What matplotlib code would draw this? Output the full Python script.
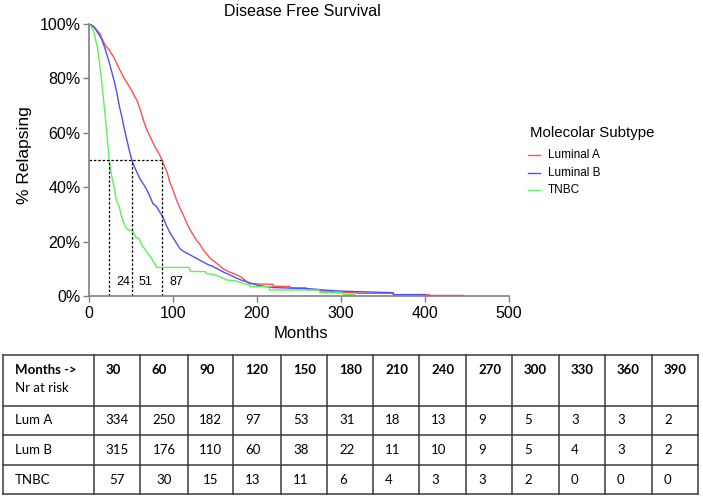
"""
Disease free survival by molecular subtype + numbers-at-risk table
"""
import matplotlib
matplotlib.use("Agg")
import matplotlib.pyplot as plt
from matplotlib.lines import Line2D

plt.rcParams["font.family"] = ["Liberation Sans", "DejaVu Sans"]

# ── data (flat stretches keep both ends) ──────────────────────────────────────
lum_a_t = [0, 3, 6, 10, 13, 17, 20, 25, 30, 33, 37, 41, 45, 50, 54, 57, 60, 63, 66, 69,
           72, 76, 80, 84, 87, 90, 93, 96, 100, 104, 108, 112, 116, 120, 124, 128, 132,
           136, 140, 144, 148, 152, 156, 160, 166, 172, 178, 183, 187, 192,
           219, 219, 239, 239, 259, 259, 275, 275, 290, 290, 320, 320, 362, 362,
           405, 405, 446]
lum_a_s = [100, 99.5, 99, 97.5, 96.5, 93.5, 92, 90, 87.5, 85.5, 83, 80.5, 78.5, 76, 73.5,
           72, 69.5, 66.5, 63.5, 61, 59, 56.5, 54, 52, 50, 47.5, 45.5, 42, 39, 35.5, 32.5,
           30, 27, 24.5, 22.5, 20.5, 19, 17, 15.5, 14, 13, 12, 11, 10, 9, 8.3, 7.5, 6.5,
           5.5, 4.5,
           4.3, 3.6, 3.5, 3.0, 3.0, 2.4, 2.3, 1.8, 1.8, 1.3, 1.2, 1.0, 1.0, 0.5,
           0.5, 0.2, 0.2]

lum_b_t = [0, 4, 8, 12, 15, 18, 21, 24, 27, 30, 33, 36, 39, 42, 45, 48, 51, 54, 57, 60,
           64, 68, 72, 76, 80, 84, 88, 92, 96, 100, 104, 108, 112, 118, 124, 130, 136,
           142, 148, 154, 160, 166, 172, 180, 188, 195, 200, 210, 219, 240, 265, 280, 300,
           330, 362, 363, 400, 402]
lum_b_s = [100, 99.5, 98, 96, 94.5, 92, 89, 86, 82.5, 79, 75, 70, 66, 61.5, 57.5, 53.5,
           50, 47.5, 45.5, 43.5, 41.5, 39.5, 37, 34, 33, 31, 29, 26, 23.5, 21.5, 19.5,
           17.5, 16.5, 15.5, 14.5, 13.5, 12.5, 11.5, 10.8, 9.8, 8.8, 8, 7.1, 6, 5.2, 4.5,
           4, 3.5, 3.1, 2.9, 2.6, 2.2, 1.8, 1.5, 1.2, 0.5, 0.5, 0]

tnbc_t = [0, 3, 6, 8, 10, 12, 14, 16, 18, 20, 22, 24, 26, 28, 30, 32, 34, 36, 38, 40, 42,
          44, 47, 52, 56, 60, 63, 66, 70, 73, 76, 79, 81, 119, 121, 138, 140, 150, 160,
          164, 175, 185, 191, 192, 214, 215, 274, 275, 302, 303, 317]
tnbc_s = [100, 99, 97, 94, 91.5, 87, 82, 76, 70, 64, 57, 50, 46, 42.5, 40, 36, 34, 33,
          30, 28, 26.5, 25, 24.3, 24, 21.5, 21, 18.5, 17.5, 15.5, 14.5, 13, 11.5, 10.5,
          10.5, 9, 9, 8.3, 7.8, 6.5, 5.9, 5.5, 4.5, 4.2, 3.4, 3.4, 2.2, 2.2, 1.2, 1.2,
          0.5, 0.5]

medians = [24, 51, 87]

risk_months = [30, 60, 90, 120, 150, 180, 210, 240, 270, 300, 330, 360, 390]
risk_lum_a = [334, 250, 182, 97, 53, 31, 18, 13, 9, 5, 3, 3, 2]
risk_lum_b = [315, 176, 110, 60, 38, 22, 11, 10, 9, 5, 4, 3, 2]
risk_tnbc = [57, 30, 15, 13, 11, 6, 4, 3, 3, 2, 0, 0, 0]

W, H = 703, 501
fig = plt.figure(figsize=(W / 100, H / 100), dpi=100)

# ── survival plot ──────────────────────────────────────────────────────────────
ax = fig.add_axes([89 / W, 1 - 296 / H, 420 / W, 272 / H])
curves = [
    (lum_a_t, lum_a_s, "#ff5050", "Luminal A"),
    (lum_b_t, lum_b_s, "#5050f0", "Luminal B"),
    (tnbc_t, tnbc_s, "#5ef05e", "TNBC"),
]
for t, s, c, lab in curves:
    ax.plot(t, s, color=c, lw=1.0, label=lab)

# median lines
ax.plot([0, max(medians)], [50, 50], color="black", ls=(0, (2, 1.5)), lw=0.9)
for m in medians:
    ax.plot([m, m], [0, 50], color="black", ls=(0, (2, 1.5)), lw=0.9)
for m, xo in zip(medians, [17, 16.5, 17]):
    ax.text(m + xo, 5, str(m), fontsize=9, ha="center", va="center")

ax.set_xlim(0, 500)
ax.set_ylim(0, 100)
ax.set_xticks(range(0, 501, 100))
ax.set_yticks(range(0, 101, 20))
ax.set_yticklabels([f"{v}%" for v in range(0, 101, 20)])
ax.tick_params(labelsize=11.5, color="#808080", length=4, width=1, pad=2)
ax.tick_params(axis="x", pad=3)
for side in ["top", "right"]:
    ax.spines[side].set_visible(False)
for side in ["left", "bottom"]:
    ax.spines[side].set_color("#808080")
    ax.spines[side].set_linewidth(1.2)

fig.text(302 / W, 1 - 12 / H, "Disease Free Survival", fontsize=11.5, ha="center", va="center")
fig.text(25 / W, 1 - 155 / H, "% Relapsing", fontsize=12.5, rotation=90, ha="center", va="center")
fig.text(301 / W, 1 - 333 / H, "Months", fontsize=12, ha="center", va="center")

# legend
fig.text(530 / W, 1 - 133 / H, "Molecolar Subtype", fontsize=10.8, ha="left", va="center")
for i, (t, s, c, lab) in enumerate(curves):
    y = 1 - (155 + i * 17.5) / H
    fig.add_artist(Line2D([528 / W, 540 / W], [y, y], color=c, lw=1.0))
    fig.text(548 / W, y, lab, fontsize=8.5, ha="left", va="center")

# ── numbers at risk table ─────────────────────────────────────────────────────
tab = fig.add_axes([0, 0, 1, 1])
tab.set_xlim(0, W)
tab.set_ylim(H, 0)
tab.axis("off")
tab.patch.set_alpha(0)

col_x = [3, 94, 140, 188, 233, 281, 327, 373, 419, 466, 512, 559, 605, 652, 698]
row_y = [355, 406, 435, 465, 494]
lc = "#3a3a3a"
for x in col_x:
    tab.plot([x, x], [row_y[0], row_y[-1]], color=lc, lw=1.1)
for y in row_y:
    tab.plot([col_x[0], col_x[-1]], [y, y], color=lc, lw=1.1)

tfont = ["Lato", "DejaVu Sans"]
tab.text(15, 370, "Months ->", fontsize=9.5, fontweight="bold", family=tfont, va="center")
tab.text(15, 388, "Nr at risk", fontsize=9.5, family=tfont, va="center")
for j, m in enumerate(risk_months):
    tab.text(col_x[j + 1] + 12, 370, str(m), fontsize=9.5, fontweight="bold",
             family=tfont, va="center")

rows = [("Lum A", risk_lum_a), ("Lum B", risk_lum_b), ("TNBC", risk_tnbc)]
for i, (name, vals) in enumerate(rows):
    yc = (row_y[i + 1] + row_y[i + 2]) / 2
    tab.text(15, yc, name, fontsize=9.5, family=tfont, va="center")
    for j, v in enumerate(vals):
        if j < 3:
            xc = (col_x[j + 1] + col_x[j + 2]) / 2
            tab.text(xc, yc, str(v), fontsize=9.5, family=tfont, ha="center", va="center")
        else:
            tab.text(col_x[j + 1] + 12, yc, str(v), fontsize=9.5, family=tfont,
                     ha="left", va="center")

fig.savefig("out.png", dpi=100, facecolor="white")
